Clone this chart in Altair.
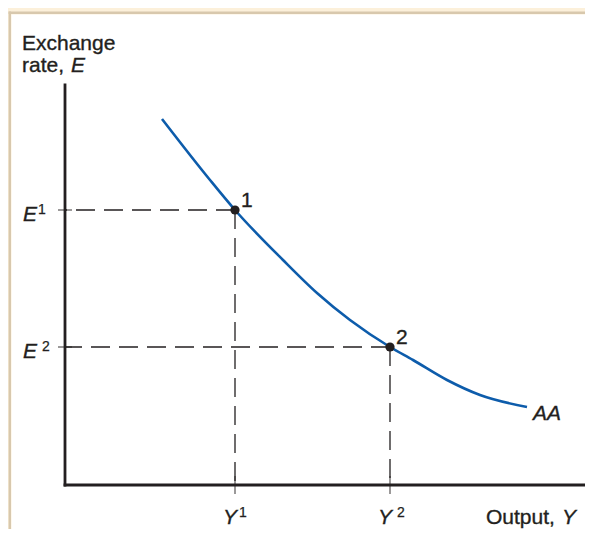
import altair as alt
import pandas as pd

# ---- data (abstract units) ----
# AA schedule: output Y vs exchange rate E
curve_y = [1.94, 2.90, 3.40, 4.36, 5.04, 5.70, 6.50, 6.96, 7.64, 8.30, 9.24]
curve_e = [7.32, 6.10, 5.50, 4.50, 3.84, 3.30, 2.76, 2.50, 2.10, 1.80, 1.56]

# equilibrium points
point_ids = ["1", "2"]
point_y = [3.40, 6.50]
point_e = [5.50, 2.76]

# axis extents
axis_y_end = 10.5
axis_e_top = 8.0

# visible domains
x_domain = [-1.08, 10.4]
e_domain = [-0.88, 9.42]

# ---- styles ----
INK = "#231F20"
BLUE = "#0D5CAB"
TAN = "#D8C8AD"
CREAM = "#FCF0DA"
FONT = "Liberation Sans"
W, H = 574, 515

xs = alt.Scale(domain=x_domain, nice=False, zero=False)
ys = alt.Scale(domain=e_domain, nice=False, zero=False)


def X(f):
    return alt.X(f, type="quantitative", scale=xs, axis=None)


def Y(f):
    return alt.Y(f, type="quantitative", scale=ys, axis=None)


curve_df = pd.DataFrame({"Y": curve_y, "E": curve_e})
pts_df = pd.DataFrame({"id": point_ids, "Y": point_y, "E": point_e, "zero": [0, 0]})
axes_df = pd.DataFrame({"x": [0, 0], "y": [0, 0], "x2": [0, axis_y_end], "y2": [axis_e_top, 0]})
one = alt.Data(values=[{}])

layers = []

# frame border
layers.append(alt.Chart(one).mark_rule(color=TAN, strokeWidth=2.4).encode(
    x=alt.value(-1.2), y=alt.value(-2.4), y2=alt.value(H)))
layers.append(alt.Chart(one).mark_rule(color=TAN, strokeWidth=2.4).encode(
    x=alt.value(-2.4), x2=alt.value(W), y=alt.value(-1.2)))

# dashed guides
layers.append(alt.Chart(pts_df).mark_rule(color=INK, strokeWidth=1.3, strokeDash=[19, 9]).encode(
    x=X("Y"), x2="zero", y=Y("E")))
layers.append(alt.Chart(pts_df).mark_rule(color=INK, strokeWidth=1.3, strokeDash=[19, 9]).encode(
    x=X("Y"), y=Y("E"), y2="zero"))

# ticks crossing the axes
layers.append(alt.Chart(pts_df).mark_tick(orient="horizontal", color=INK, size=14, thickness=1.3).encode(
    x=X("zero"), y=Y("E")))
layers.append(alt.Chart(pts_df).mark_tick(orient="vertical", color=INK, size=18, thickness=1.3).encode(
    x=X("Y"), y=Y("zero")))

# axes
layers.append(alt.Chart(axes_df).mark_rule(color=INK, strokeWidth=2.8, strokeCap="square").encode(
    x=X("x"), x2="x2", y=Y("y"), y2="y2"))

# AA curve
layers.append(alt.Chart(curve_df).mark_line(color=BLUE, strokeWidth=2.6, interpolate="monotone").encode(
    x=X("Y"), y=Y("E")))

# points
layers.append(alt.Chart(pts_df).mark_circle(size=85, color=INK, opacity=1).encode(
    x=X("Y"), y=Y("E")))

# point labels
layers.append(alt.Chart(pts_df).mark_text(align="left", baseline="alphabetic", dx=6, dy=-3,
                                           font=FONT, fontSize=21, color=INK,
                                           stroke=INK, strokeWidth=0.35).encode(
    x=X("Y"), y=Y("E"), text="id"))


def txt(df, text, dx, dy, align="left", size=21, italic=False, xf="x", yf="y"):
    kw = dict(align=align, baseline="alphabetic", dx=dx, dy=dy, font=FONT, fontSize=size,
              color=INK, stroke=INK, strokeWidth=0.35 if size > 16 else 0.25)
    if italic:
        kw["fontStyle"] = "italic"
    return alt.Chart(df).mark_text(**kw).encode(x=X(xf), y=Y(yf), text=alt.value(text))


top_df = pd.DataFrame({"x": [0], "y": [axis_e_top]})
layers.append(txt(top_df, "Exchange", -43, -35))
layers.append(txt(top_df, "rate,", -43, -13))
layers.append(txt(top_df, "E", 6, -13, italic=True))

end_df = pd.DataFrame({"x": [axis_y_end], "y": [0]})
layers.append(txt(end_df, "Output,", -104, 39))
layers.append(txt(end_df, "Y", -28, 39, italic=True))

aa_df = pd.DataFrame({"x": [curve_y[-1]], "y": [curve_e[-1]]})
layers.append(txt(aa_df, "AA", 6, 13, italic=True))

# E and Y tick labels with superscripts
e_main_dx = [-28, -28]
e_sup_dx = [-27, -23]
y_main_dx = [2, 2]
y_sup_dx = [4, 7]
for i, pid in enumerate(point_ids):
    edf = pd.DataFrame({"x": [0], "y": [point_e[i]]})
    layers.append(txt(edf, "E", e_main_dx[i], 11, align="right", italic=True))
    layers.append(txt(edf, pid, e_sup_dx[i], 4, size=14))
    ydf = pd.DataFrame({"x": [point_y[i]], "y": [0]})
    layers.append(txt(ydf, "Y", y_main_dx[i], 39, align="right", italic=True))
    layers.append(txt(ydf, pid, y_sup_dx[i], 32, size=14))

chart = alt.layer(*layers).properties(
    width=W, height=H,
    autosize=alt.AutoSizeParams(type="none"),
    padding={"left": 3, "top": 6, "right": 0, "bottom": 0},
    background=CREAM,
).configure_view(fill="white", stroke="transparent")

chart.save("out.html", embed_options={"renderer": "svg", "actions": False})
